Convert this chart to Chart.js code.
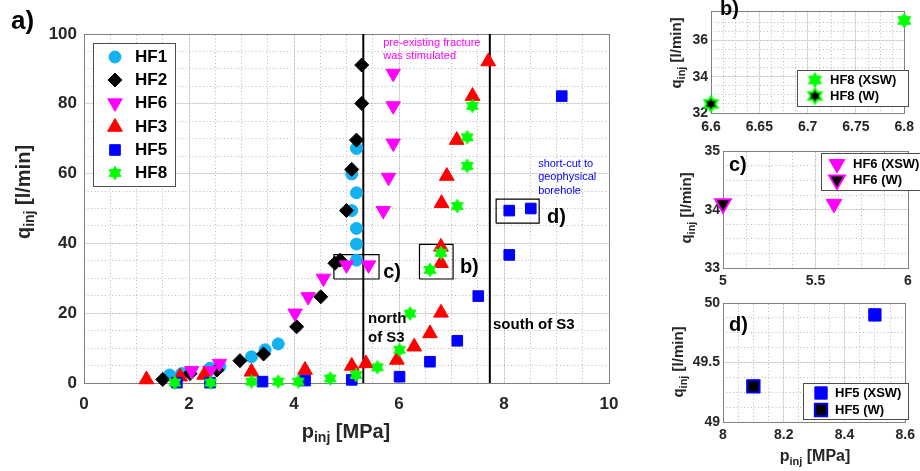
<!DOCTYPE html>
<html>
<head>
<meta charset="utf-8">
<title>q_inj vs p_inj</title>
<script src="https://cdn.jsdelivr.net/npm/chart.js@4.4.1/dist/chart.umd.min.js"></script>
<style>
  html,body{margin:0;padding:0;background:#fff;}
  body{position:relative;width:920px;height:471px;overflow:hidden;}
  canvas{position:absolute;}
</style>
</head>
<body>
<canvas id="cMain" width="640" height="471" style="left:0;top:0"></canvas>
<canvas id="cB" width="280" height="140" style="left:640px;top:0"></canvas>
<canvas id="cC" width="280" height="150" style="left:640px;top:140px"></canvas>
<canvas id="cD" width="280" height="181" style="left:640px;top:290px"></canvas>
<script>
const FONT = '"Liberation Sans", Arial, Helvetica, sans-serif';

// ---- a) main panel: p_inj [MPa] vs q_inj [l/min] ----
const xTicksA = [0, 2, 4, 6, 8, 10];
const yTicksA = [0, 20, 40, 60, 80, 100];

const hf1P = [1.63, 1.86, 2.40, 2.59, 3.19, 3.45, 3.70, 5.19, 5.19, 5.19, 5.10, 5.19, 5.10, 5.19];
const hf1Q = [2.3, 2.7, 4.2, 4.7, 7.5, 9.5, 11.2, 35.2, 39.8, 44.3, 49.4, 54.5, 59.9, 67.2];
const hf2P = [1.50, 2.02, 2.53, 2.97, 3.42, 4.05, 4.51, 4.78, 4.88, 5.00, 5.10, 5.19, 5.29, 5.29];
const hf2Q = [1.0, 2.7, 3.7, 6.4, 8.3, 16.1, 24.7, 34.3, 35.2, 49.4, 61.2, 69.6, 80.1, 91.1];
const hf6P = [2.05, 2.40, 2.58, 4.02, 4.27, 4.56, 5.00, 5.42, 5.70, 5.80, 5.89, 5.89, 5.89];
const hf6Q = [3.5, 3.5, 5.6, 20.0, 24.7, 30.0, 33.8, 33.8, 49.4, 58.9, 68.7, 79.4, 88.7];
const hf3P = [1.19, 1.83, 2.29, 3.19, 4.21, 5.10, 5.37, 5.96, 6.29, 6.59, 6.80, 6.80, 6.80, 6.81, 6.91, 7.10, 7.40, 7.70];
const hf3Q = [1.0, 1.8, 2.3, 3.2, 3.7, 4.9, 5.6, 6.6, 10.4, 14.2, 20.1, 34.3, 39.0, 51.5, 59.3, 69.6, 82.2, 92.1];
const hf5P = [1.77, 2.40, 3.40, 4.21, 5.10, 6.01, 6.59, 7.11, 7.51, 8.10, 8.10, 8.51, 9.10];
const hf5Q = [0.1, 0.1, 0.4, 0.7, 0.9, 1.8, 6.1, 12.1, 24.9, 36.7, 49.4, 50.0, 82.2];
const hf8P = [1.73, 2.41, 3.19, 3.70, 4.08, 4.69, 5.18, 5.59, 6.01, 6.21, 6.59, 6.80, 7.11, 7.30, 7.30, 7.40];
const hf8Q = [0.1, 0.1, 0.4, 0.4, 0.4, 1.3, 2.3, 4.5, 9.5, 19.9, 32.4, 37.3, 50.7, 62.2, 70.4, 79.4];

// S3 boundaries and the zoom boxes [pMin, pMax, qMin, qMax]
const s3Lines = [5.32, 7.73];
const boxB = [6.39, 7.03, 29.8, 39.7];
const boxC = [4.76, 5.62, 29.8, 36.8];
const boxD = [7.85, 8.67, 45.8, 52.7];

// ---- b) c) d) zoom panels ----
const xTicksB = [6.6, 6.65, 6.7, 6.75, 6.8];
const yTicksB = [32, 34, 36];
const hf8XswP = [6.6, 6.8], hf8XswQ = [32.5, 37.1];
const hf8WP = [6.6], hf8WQ = [32.5];

const xTicksC = [5, 5.5, 6];
const yTicksC = [33, 34, 35];
const hf6XswP = [5.0, 5.6], hf6XswQ = [34.1, 34.1];
const hf6WP = [5.0], hf6WQ = [34.1];

const xTicksD = [8, 8.2, 8.4, 8.6];
const yTicksD = [49, 49.5, 50];
const hf5XswP = [8.1, 8.5], hf5XswQ = [49.3, 49.9];
const hf5WP = [8.1], hf5WQ = [49.3];

const pts = (P, Q) => P.map((p, i) => ({x: p, y: Q[i]}));

// filled six-point star (matlab 'hexagram')
function hexagram(r, fill, edge, lw){
  lw = lw || 1;
  const c = document.createElement('canvas');
  const s = Math.ceil(2*r + 2*lw + 2);
  c.width = c.height = s;
  const g = c.getContext('2d');
  g.translate(s/2, s/2);
  g.beginPath();
  for(let i=0;i<12;i++){
    const a = -Math.PI/2 + i*Math.PI/6, rr = i%2 ? r/Math.sqrt(3) : r;
    g.lineTo(rr*Math.cos(a), rr*Math.sin(a));
  }
  g.closePath();
  g.fillStyle = fill; g.fill();
  g.lineWidth = lw; g.strokeStyle = edge || fill; g.stroke();
  return c;
}

const mk = (style, r, fill, edge, bw, rot) => ({
  pointStyle: style, pointRadius: r, pointRotation: rot || 0,
  backgroundColor: fill, borderColor: edge || fill, borderWidth: bw || 1
});

const sty = {
  hf1: mk('circle', 6, '#12b2f0'),
  hf2: mk('rectRot', 7, '#000000'),
  hf6: mk('triangle', 8.3, '#ff00ff', null, 1, 180),
  hf3: mk('triangle', 8.5, '#ff0000'),
  hf5: mk('rect', 7.5, '#0000ff'),
  hf8: mk(hexagram(6.8, '#00ff00'), 7, '#00ff00'),
  bX: mk(hexagram(7.5, '#00ff00'), 8, '#00ff00'),
  bW: mk(hexagram(7.5, '#000000', '#00ff00', 2), 8, '#000000'),
  cX: mk('triangle', 9, '#ff00ff', null, 1, 180),
  cW: mk('triangle', 9, '#000000', '#ff00ff', 2, 180),
  dX: mk('rect', 8.7, '#0000ff'),
  dW: mk('rect', 8.7, '#000000', '#0000ff', 2)
};

function drawMarker(ctx, st, x, y){
  ctx.save();
  ctx.fillStyle = st.backgroundColor; ctx.strokeStyle = st.borderColor; ctx.lineWidth = st.borderWidth;
  Chart.helpers.drawPoint(ctx, {pointStyle: st.pointStyle, rotation: st.pointRotation, radius: st.pointRadius, borderWidth: st.borderWidth}, x, y);
  ctx.restore();
}

// text with a subscript, e.g. q_inj [l/min]
function subLabel(ctx, t){
  const big = `bold ${t.size}px ${FONT}`, small = `bold ${Math.round(t.size*0.7)}px ${FONT}`;
  ctx.save();
  ctx.translate(t.x, t.y); ctx.rotate(t.rot || 0);
  ctx.fillStyle = '#262626'; ctx.textBaseline = 'middle'; ctx.textAlign = 'left';
  ctx.font = big; const w0 = ctx.measureText(t.parts[0]).width, w2 = ctx.measureText(t.parts[2]).width;
  ctx.font = small; const w1 = ctx.measureText(t.parts[1]).width;
  let cx = -(w0 + w1 + w2)/2;
  ctx.font = big; ctx.fillText(t.parts[0], cx, 0); cx += w0;
  ctx.font = small; ctx.fillText(t.parts[1], cx, t.size*0.33); cx += w1;
  ctx.font = big; ctx.fillText(t.parts[2], cx, 0);
  ctx.restore();
}

function drawLegend(ctx, L){
  const [x0, y0, x1, y1] = L.box;
  ctx.save();
  ctx.fillStyle = '#fff'; ctx.fillRect(x0, y0, x1-x0, y1-y0);
  ctx.strokeStyle = '#4d4d4d'; ctx.lineWidth = 1; ctx.strokeRect(x0+0.5, y0+0.5, x1-x0, y1-y0);
  L.items.forEach((it, i) => {
    drawMarker(ctx, it.st, L.mx, L.rows[i]);
    ctx.font = L.font; ctx.fillStyle = '#000'; ctx.textAlign = 'left'; ctx.textBaseline = 'middle';
    ctx.fillText(it.label, L.tx, L.rows[i]);
  });
  ctx.restore();
}

// notes in data coords, tags/titles/legend in canvas pixels
function decor(cfg){
  return {
    id: 'decor',
    afterDatasetsDraw(chart){
      const {ctx} = chart, sx = chart.scales.x, sy = chart.scales.y;
      (cfg.notes || []).forEach(n => {
        ctx.save();
        ctx.font = n.font; ctx.fillStyle = n.color; ctx.textAlign = 'left'; ctx.textBaseline = 'middle';
        const px = sx.getPixelForValue(n.p), py = sy.getPixelForValue(n.q);
        n.lines.forEach((t, i) => ctx.fillText(t, px, py + i*n.lh));
        ctx.restore();
      });
      (cfg.tags || []).forEach(t => {
        ctx.save();
        ctx.font = t.font; ctx.fillStyle = '#000'; ctx.textAlign = 'left'; ctx.textBaseline = 'middle';
        ctx.fillText(t.text, t.x, t.y);
        ctx.restore();
      });
      (cfg.titles || []).forEach(t => subLabel(ctx, t));
      if(cfg.legend) drawLegend(ctx, cfg.legend);
    }
  };
}

function axes(o){
  const tickFont = {family: FONT, size: o.tickSize, weight: 'bold'};
  const setTicks = arr => s => { s.ticks = arr.map(v => ({value: v})); };
  const lbl = v => String(+Number(v).toFixed(3));
  return {
    x: {type: 'linear', position: 'bottom', min: o.xr[0], max: o.xr[1],
        afterBuildTicks: setTicks(o.xt), afterFit: s => { s.height = o.xh; },
        ticks: {callback: lbl, color: '#262626', font: tickFont, padding: o.xpad, maxRotation: 0, autoSkip: false},
        grid: {color: '#e0e0e0', drawTicks: false}, border: {color: '#808080'}},
    x2: {type: 'linear', position: 'top', min: o.xr[0], max: o.xr[1],
        ticks: {display: false, stepSize: o.xm}, afterFit: s => { s.height = 0; },
        grid: {color: '#b9b9b9', drawTicks: false}, border: {color: '#808080', dash: [1, 2.5]}},
    y: {type: 'linear', position: 'left', min: o.yr[0], max: o.yr[1],
        afterBuildTicks: setTicks(o.yt), afterFit: s => { s.width = o.yw; },
        ticks: {callback: lbl, color: '#262626', font: tickFont, padding: o.ypad, autoSkip: false},
        grid: {color: '#e0e0e0', drawTicks: false}, border: {color: '#808080'}},
    y2: {type: 'linear', position: 'right', min: o.yr[0], max: o.yr[1],
        ticks: {display: false, stepSize: o.ym}, afterFit: s => { s.width = 0; },
        grid: {color: '#b9b9b9', drawTicks: false}, border: {color: '#808080', dash: [1, 2.5]}}
  };
}

const series = (label, P, Q, st, order) => Object.assign({label, data: pts(P, Q), order, clip: false}, st);
const edge = (data, w) => ({data, showLine: true, borderColor: '#000', backgroundColor: '#000', borderWidth: w, pointRadius: 0, order: 20});
const rectPts = b => [{x: b[0], y: b[2]}, {x: b[1], y: b[2]}, {x: b[1], y: b[3]}, {x: b[0], y: b[3]}, {x: b[0], y: b[2]}];

function baseOpts(pad, scales){
  return {
    responsive: false, animation: false, devicePixelRatio: 1,
    layout: {padding: pad},
    plugins: {legend: {display: false}, tooltip: {enabled: false}},
    scales
  };
}

/* ====== a) ====== */
new Chart(document.getElementById('cMain'), {
  type: 'scatter',
  data: {datasets: [
    ...s3Lines.map(p => edge([{x: p, y: 0}, {x: p, y: 100}], 2)),
    edge(rectPts(boxB), 1.2), edge(rectPts(boxC), 1.2), edge(rectPts(boxD), 1.2),
    series('HF1', hf1P, hf1Q, sty.hf1, 6),
    series('HF2', hf2P, hf2Q, sty.hf2, 5),
    series('HF6', hf6P, hf6Q, sty.hf6, 4),
    series('HF3', hf3P, hf3Q, sty.hf3, 3),
    series('HF5', hf5P, hf5Q, sty.hf5, 2),
    series('HF8', hf8P, hf8Q, sty.hf8, 1)
  ]},
  options: baseOpts({left: 0, top: 34, right: 31, bottom: 0},
    axes({xr: [0, 10], yr: [0, 100], xt: xTicksA, yt: yTicksA, xm: 0.5, ym: 5,
          tickSize: 17, xh: 88, yw: 84, xpad: 11, ypad: 7})),
  plugins: [decor({
    notes: [
      {lines: ['pre-existing fracture', 'was stimulated'], p: 5.70, q: 97.4, lh: 13, color: '#ff00ff', font: `11px ${FONT}`},
      {lines: ['short-cut to', 'geophysical', 'borehole'], p: 8.65, q: 62.8, lh: 13.5, color: '#0000ff', font: `11px ${FONT}`},
      {lines: ['north', 'of S3'], p: 5.41, q: 18.3, lh: 19, color: '#000', font: `bold 15px ${FONT}`},
      {lines: ['south of S3'], p: 7.79, q: 16.6, lh: 19, color: '#000', font: `bold 15px ${FONT}`},
      {lines: ['c)'], p: 5.70, q: 31.8, lh: 0, color: '#000', font: `bold 20px ${FONT}`},
      {lines: ['b)'], p: 7.16, q: 33.0, lh: 0, color: '#000', font: `bold 20px ${FONT}`},
      {lines: ['d)'], p: 8.82, q: 47.3, lh: 0, color: '#000', font: `bold 20px ${FONT}`}
    ],
    tags: [{text: 'a)', x: 11, y: 22, font: `bold 26px ${FONT}`}],
    titles: [
      {parts: ['q', 'inj', ' [l/min]'], x: 24, y: 192, size: 20, rot: -Math.PI/2},
      {parts: ['p', 'inj', ' [MPa]'], x: 346, y: 432, size: 20}
    ],
    legend: {box: [93, 43, 175, 186], mx: 115, tx: 135, rows: [57, 80, 103, 127, 150, 173],
      font: `bold 17px ${FONT}`,
      items: [{label: 'HF1', st: sty.hf1}, {label: 'HF2', st: sty.hf2}, {label: 'HF6', st: sty.hf6},
              {label: 'HF3', st: sty.hf3}, {label: 'HF5', st: sty.hf5}, {label: 'HF8', st: sty.hf8}]}
  })]
});

/* ====== b) c) d) ====== */
function inset(id, o){
  new Chart(document.getElementById(id), {
    type: 'scatter',
    data: {datasets: [
      series(o.names[0], o.xsw[0], o.xsw[1], o.stX, 2),
      series(o.names[1], o.w[0], o.w[1], o.stW, 1)
    ]},
    options: baseOpts(o.pad, axes(o.ax)),
    plugins: [decor({
      tags: [{text: o.tag[0], x: o.tag[1], y: o.tag[2], font: `bold 20px ${FONT}`}],
      titles: o.titles,
      legend: {box: o.lg.box, mx: o.lg.mx, tx: o.lg.tx, rows: o.lg.rows, font: `bold 13px ${FONT}`,
        items: [{label: o.names[0], st: o.stX}, {label: o.names[1], st: o.stW}]}
    })]
  });
}

const qTitle = (x, y) => ({parts: ['q', 'inj', ' [l/min]'], x, y, size: 15, rot: -Math.PI/2});

inset('cB', {
  names: ['HF8 (XSW)', 'HF8 (W)'], xsw: [hf8XswP, hf8XswQ], w: [hf8WP, hf8WQ], stX: sty.bX, stW: sty.bW,
  pad: {left: 0, top: 1, right: 12, bottom: 0},
  ax: {xr: [6.6, 6.8], yr: [32, 37.6], xt: xTicksB, yt: yTicksB, xm: 0.0125, ym: 0.5,
       tickSize: 14, xh: 27, yw: 71, xpad: 6, ypad: 3},
  tag: ['b)', 80, 9], titles: [qTitle(37, 53)],
  lg: {box: [157, 70, 268, 106], mx: 175, tx: 190, rows: [80, 96]}
});

inset('cC', {
  names: ['HF6 (XSW)', 'HF6 (W)'], xsw: [hf6XswP, hf6XswQ], w: [hf6WP, hf6WQ], stX: sty.cX, stW: sty.cW,
  pad: {left: 0, top: 9, right: 12, bottom: 0},
  ax: {xr: [5, 6], yr: [33, 35], xt: xTicksC, yt: yTicksC, xm: 0.125, ym: 0.25,
       tickSize: 14, xh: 22, yw: 83, xpad: 5, ypad: 3},
  tag: ['c)', 89, 25], titles: [qTitle(47, 68)],
  lg: {box: [181, 13, 300, 50], mx: 197, tx: 213, rows: [24, 40]}
});

inset('cD', {
  names: ['HF5 (XSW)', 'HF5 (W)'], xsw: [hf5XswP, hf5XswQ], w: [hf5WP, hf5WQ], stX: sty.dX, stW: sty.dW,
  pad: {left: 0, top: 13, right: 12, bottom: 0},
  ax: {xr: [8, 8.6], yr: [49, 50], xt: xTicksD, yt: yTicksD, xm: 0.05, ym: 0.125,
       tickSize: 14, xh: 49, yw: 83, xpad: 5, ypad: 3},
  tag: ['d)', 89, 35],
  titles: [qTitle(39, 72), {parts: ['p', 'inj', ' [MPa]'], x: 175, y: 167, size: 16}],
  lg: {box: [163, 93, 268, 129], mx: 181, tx: 195, rows: [103, 120]}
});
</script>
</body>
</html>
